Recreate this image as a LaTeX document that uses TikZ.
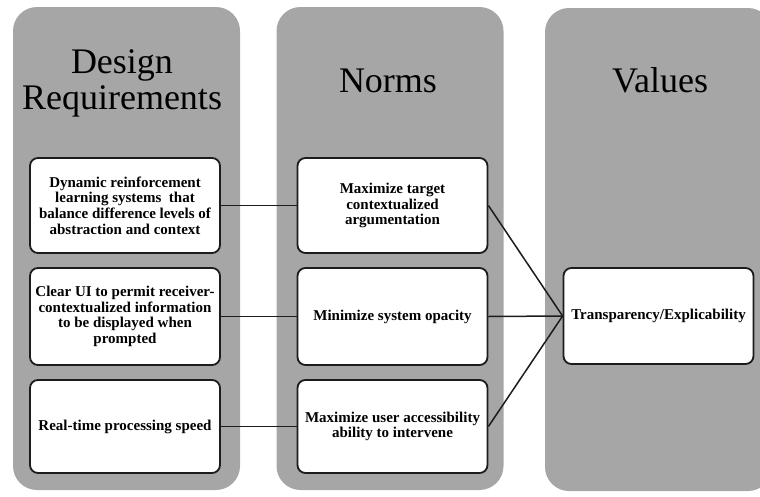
\documentclass[tikz,border=0pt]{standalone}
\usepackage{fontspec}
\setmainfont{Liberation Serif}
\definecolor{panelgray}{RGB}{166,166,166}
\definecolor{edgegray}{RGB}{28,28,28}
\begin{document}
\begin{tikzpicture}[x=1pt, y=-1pt,
  panel/.style={rectangle, rounded corners=24pt, fill=panelgray, minimum width=227pt, minimum height=483pt, inner sep=0pt},
  coltitle/.style={font=\fontsize{36}{36}\selectfont, align=center, inner sep=0pt},
  item/.style={rectangle, rounded corners=8pt, draw=edgegray, line width=1.8pt, fill=white, minimum width=190pt, minimum height=95pt, align=center, inner sep=1pt, font=\bfseries\fontsize{15}{15.7}\selectfont},
  link/.style={draw=edgegray, line width=1.5pt}]
\useasboundingbox (0,0) rectangle (760,496);
\node[panel] (reqcol) at (126.5,248.5){};
\node[panel] (normcol) at (390,248.5){};
\node[panel] (valcol) at (658.5,249.5){};
\node[coltitle, anchor=north] (reqtitle) at (122,49){Design\\Requirements};
\node[coltitle, anchor=base] (normtitle) at (388,92){Norms};
\node[coltitle, anchor=base] (valtitle) at (660,92){Values};
\node[item] (req1) at (125,205.5){Dynamic reinforcement\\learning systems\ \ that\\balance difference levels of\\abstraction and context};
\node[item, minimum height=97pt] (req2) at (125,316.5){Clear UI to permit receiver-\\contextualized information\\to be displayed when\\prompted};
\node[item, minimum height=93pt] (req3) at (125,426.5){Real-time processing speed};
\node[item] (norm1) at (392.5,205.5){Maximize target\\contextualized\\argumentation};
\node[item, minimum height=97pt] (norm2) at (392.5,316.5){Minimize system opacity};
\node[item, minimum height=93pt] (norm3) at (392.5,426.5){Maximize user accessibility\\ability to intervene};
\node[item, minimum height=96pt] (val1) at (658.5,316){Transparency/Explicability};
\draw[link](req1.east) -- (norm1.west);
\draw[link](req2.east) -- (norm2.west);
\draw[link](req3.east) -- (norm3.west);
\draw[link](norm1.east) -- (val1.west);
\draw[link](norm2.east) -- (val1.west);
\draw[link](norm3.east) -- (val1.west);
\end{tikzpicture}
\end{document}
